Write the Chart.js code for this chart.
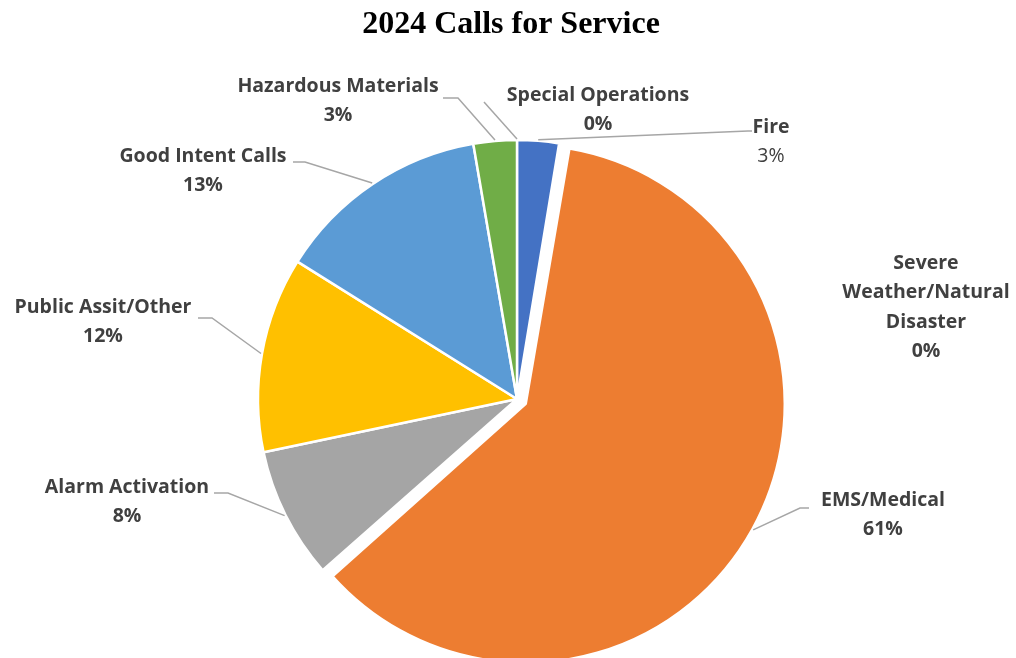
<!DOCTYPE html>
<html>
<head>
<meta charset="utf-8">
<script src="https://cdn.jsdelivr.net/npm/chart.js@4"></script>
<style>
  html, body { margin: 0; padding: 0; background: #fff; }
  #wrap { width: 1016px; height: 658px; }
</style>
</head>
<body>
<div id="wrap"><canvas id="mycanvas" width="1016" height="658"></canvas></div>
<script>
// share of calls by category (percent)
var categoria = ['Fire', 'EMS/Medical', 'Alarm Activation', 'Public Assit/Other',
                 'Good Intent Calls', 'Hazardous Materials', 'Special Operations',
                 'Severe Weather/Natural Disaster'];
var valor = [2.6, 60.9, 8.2, 12.2, 13.4, 2.7, 0, 0];
var color = ['#4472C4', '#ED7D31', '#A5A5A5', '#FFC000', '#5B9BD5', '#70AD47', '#264478', '#9E480E'];
var explode = [0, 10, 0, 0, 0, 0, 0, 0];   // px the slice is pulled out

var RADIUS = 259;

// where each data label sits, plus the elbow of its leader line
var labelPos = [
  { x: 771, y: 127, lead: [[752, 131], [748, 131]], valueBold: false },
  { x: 883, y: 500, lead: [[809, 508], [800, 508]] },
  { x: 127, y: 487, lead: [[214, 493], [228, 493]] },
  { x: 103, y: 307, lead: [[198, 318], [212, 318]] },
  { x: 203, y: 156, lead: [[293, 162], [305, 162]] },
  { x: 338, y: 86,  lead: [[443, 98], [458, 98]] },
  { x: 598, y: 95,  lead: [[484, 102], [484, 102]] },
  { x: 926, y: 263, lead: null, wrap: ['Severe', 'Weather/Natural', 'Disaster'] }
];

var labelsPlugin = {
  id: 'calloutLabels',
  afterUpdate: function(chart) {
    // chart.js moves an arc by offset/4 and also grows its radius by offset/4,
    // so take that growth back to keep the pulled-out slice the same size
    var meta = chart.getDatasetMeta(0);
    meta.data.forEach(function(arc, i) {
      arc.outerRadius = RADIUS - explode[i];
    });
  },
  afterDatasetsDraw: function(chart) {
    var ctx = chart.ctx;
    var meta = chart.getDatasetMeta(0);
    var total = valor.reduce(function(a, b) { return a + b; }, 0);

    ctx.save();
    // title
    ctx.fillStyle = '#000';
    ctx.font = 'bold 32px "Liberation Serif"';
    ctx.textAlign = 'center';
    ctx.textBaseline = 'middle';
    ctx.fillText('2024 Calls for Service', 511, 25);

    for (var i = 0; i < categoria.length; i++) {
      var arc = meta.data[i];
      var p = labelPos[i];
      var mid = (arc.startAngle + arc.endAngle) / 2;
      var off = explode[i];

      if (p.lead) {
        var r = RADIUS + 1 + off;
        var ex = arc.x + Math.cos(mid) * r;
        var ey = arc.y + Math.sin(mid) * r;
        ctx.strokeStyle = '#A6A6A6';
        ctx.lineWidth = 1.5;
        ctx.beginPath();
        ctx.moveTo(p.lead[0][0], p.lead[0][1]);
        ctx.lineTo(p.lead[1][0], p.lead[1][1]);
        ctx.lineTo(ex, ey);
        ctx.stroke();
      }

      var lines = p.wrap || [categoria[i]];
      ctx.fillStyle = '#404040';
      ctx.font = 'bold 19.5px "Open Sans"';
      for (var j = 0; j < lines.length; j++) {
        ctx.fillText(lines[j], p.x, p.y + j * 29.5);
      }
      ctx.font = (p.valueBold === false ? '' : 'bold ') + '19.5px "Open Sans"';
      ctx.fillText(Math.round(valor[i] / total * 100) + '%', p.x, p.y + lines.length * 29.5);
    }
    ctx.restore();
  }
};

var chartdata = {
  labels: categoria,
  datasets: [{
    label: 'categoria',
    data: valor,
    backgroundColor: color,
    borderColor: '#ffffff',
    borderWidth: 2.5,
    offset: explode.map(function(o) { return o * 4; })
  }]
};

var ctx = document.getElementById('mycanvas');
var pieChart = new Chart(ctx, {
  type: 'pie',
  data: chartdata,
  options: {
    responsive: false,
    animation: false,
    events: [],
    radius: RADIUS,
    layout: { padding: { left: 18, right: 0, top: 140, bottom: 0 } },
    plugins: {
      legend: { display: false },
      title: { display: false },
      tooltip: { enabled: false }
    }
  },
  plugins: [labelsPlugin]
});
</script>
</body>
</html>
